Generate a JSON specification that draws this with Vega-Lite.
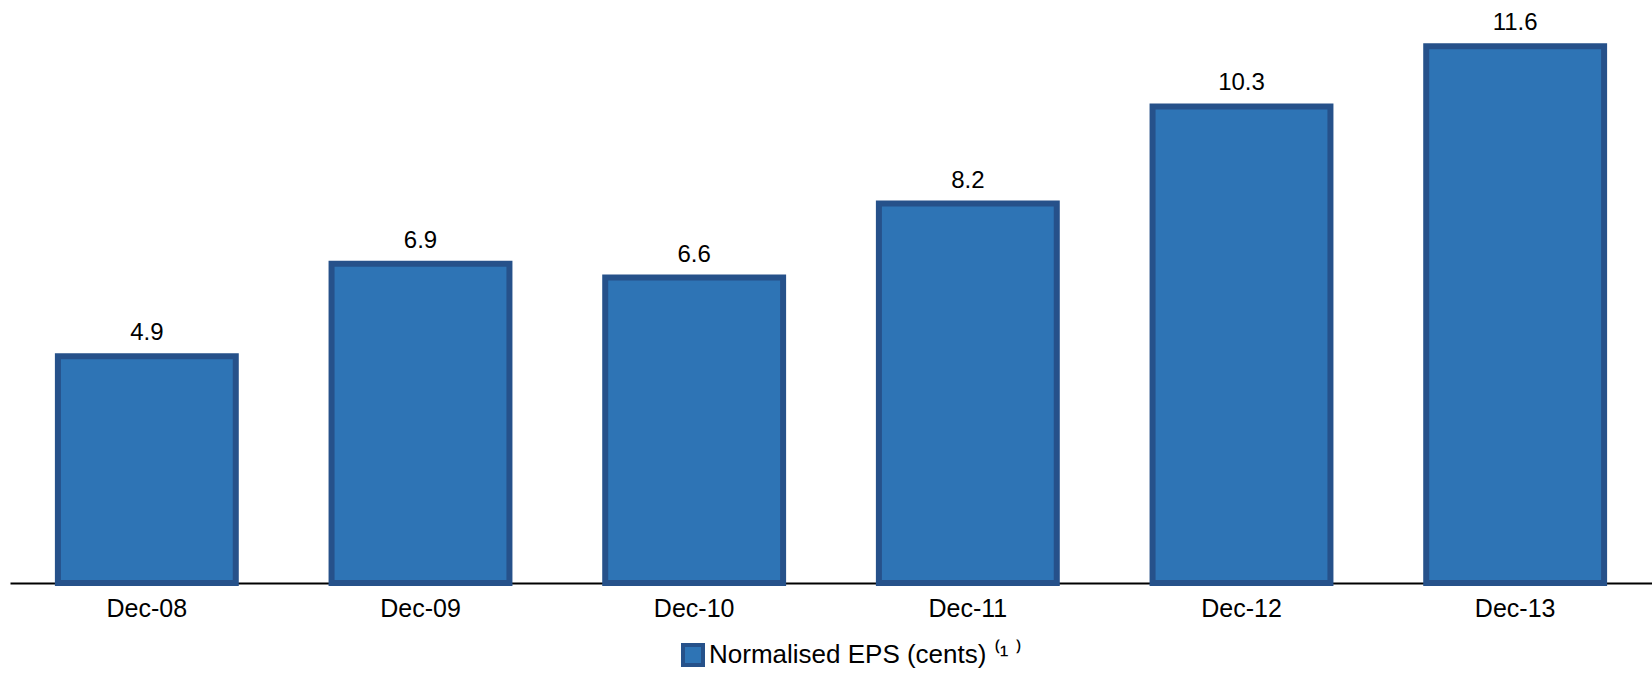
{
  "$schema": "https://vega.github.io/schema/vega-lite/v6.json",
  "width": 1642,
  "height": 583,
  "autosize": "none",
  "padding": {"left": 10, "top": 0, "right": 0, "bottom": 92},
  "background": "white",
  "config": {"view": {"stroke": null}, "font": "Liberation Sans"},
  "data": {"values": [
    {"period": "Dec-08", "eps": 4.9, "series": "Normalised EPS (cents) ⁽¹ ⁾"},
    {"period": "Dec-09", "eps": 6.9, "series": "Normalised EPS (cents) ⁽¹ ⁾"},
    {"period": "Dec-10", "eps": 6.6, "series": "Normalised EPS (cents) ⁽¹ ⁾"},
    {"period": "Dec-11", "eps": 8.2, "series": "Normalised EPS (cents) ⁽¹ ⁾"},
    {"period": "Dec-12", "eps": 10.3, "series": "Normalised EPS (cents) ⁽¹ ⁾"},
    {"period": "Dec-13", "eps": 11.6, "series": "Normalised EPS (cents) ⁽¹ ⁾"}
  ]},
  "encoding": {
    "x": {"field": "period", "type": "nominal", "sort": null,
      "scale": {"paddingInner": 0.35, "paddingOuter": 0.175},
      "axis": {"title": null, "labelAngle": 0, "labelFontSize": 25, "labelColor": "#000000",
        "labelPadding": 13, "ticks": false, "domainColor": "#000000", "domainWidth": 2,
        "labelFont": "Liberation Sans"}},
    "y": {"field": "eps", "type": "quantitative",
      "scale": {"domain": [0, 12.6], "nice": false, "zero": true},
      "axis": null}
  },
  "layer": [
    {"mark": {"type": "bar", "stroke": "#26518a", "strokeWidth": 6, "fill": "#2e74b5"},
     "encoding": {"color": {"field": "series", "type": "nominal",
        "scale": {"range": ["#2e74b5"]},
        "legend": {"title": null, "orient": "none", "legendX": 670, "legendY": 642,
          "direction": "horizontal",
          "symbolType": "square", "symbolSize": 400, "symbolFillColor": "#2e74b5",
          "symbolStrokeColor": "#26518a", "symbolStrokeWidth": 4, "symbolOpacity": 1,
          "labelFontSize": 26, "labelColor": "#000000", "labelFont": "Liberation Sans",
          "labelLimit": 0, "labelOffset": 3}}}},
    {"mark": {"type": "text", "baseline": "alphabetic", "dy": -16, "fontSize": 24, "color": "#000000", "font": "Liberation Sans"},
     "encoding": {"text": {"field": "eps", "type": "quantitative", "format": ".1f"}}}
  ]
}
